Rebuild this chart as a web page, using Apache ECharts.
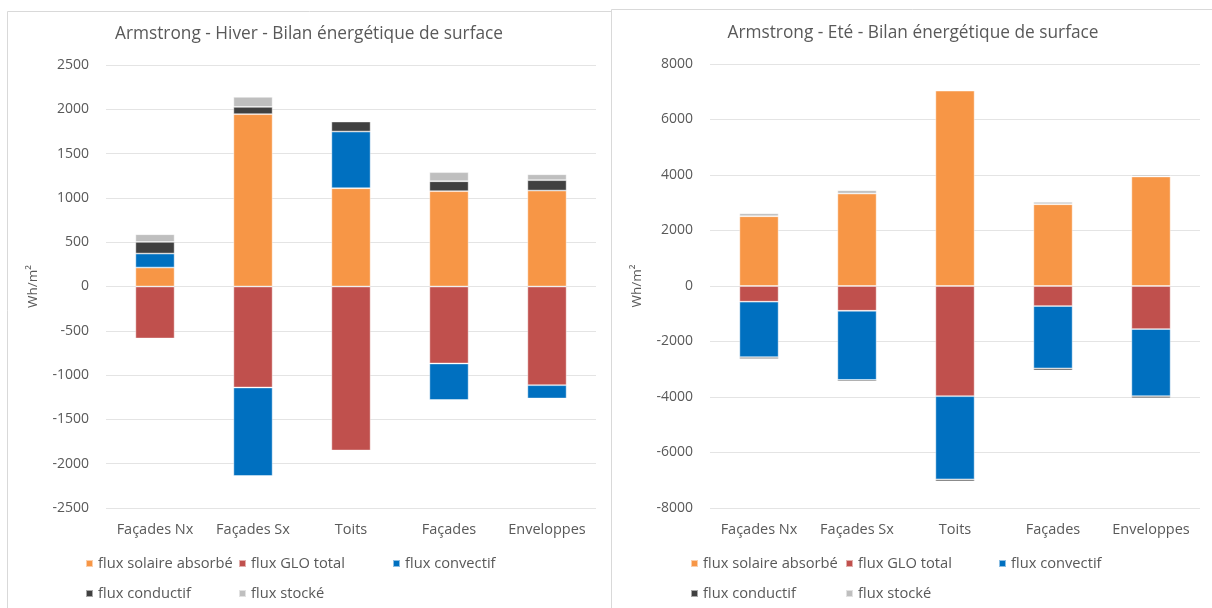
<!DOCTYPE html>
<html>
<head>
<meta charset="utf-8">
<script src="https://cdn.jsdelivr.net/npm/echarts@6/dist/echarts.min.js"></script>
<style>
  html, body { margin: 0; padding: 0; background: #ffffff; }
  #chart { width: 1212px; height: 608px; }
</style>
</head>
<body>
<div id="chart"></div>
<script>
// Categories shared by both panels
const categories = ['Façades Nx', 'Façades Sx', 'Toits', 'Façades', 'Enveloppes'];
const seriesNames = ['flux solaire absorbé', 'flux GLO total', 'flux convectif', 'flux conductif', 'flux stocké'];

// Winter (Hiver) surface energy balance, Wh/m²
const hiverSolaire    = [214, 1945, 1109, 1076, 1083];
const hiverGLO        = [-587, -1140, -1851, -869, -1114];
const hiverConvectif  = [158, -998, 640, -411, -150];
const hiverConductif  = [131, 82, 113, 112, 117];
const hiverStocke     = [87, 113, 0, 102, 67];

// Summer (Eté) surface energy balance, Wh/m²
const eteSolaire      = [2513, 3332, 7040, 2946, 3946];
const eteGLO          = [-566, -892, -3971, -722, -1552];
const eteConvectif    = [-1997, -2491, -2997, -2249, -2419];
const eteConductif    = [-61, -57, -72, -72, -72];
const eteStocke       = [108, 119, 0, 86, 72];

// Y axis ticks
const hiverTicks = { min: -2500, max: 2500, interval: 500 };
const eteTicks   = { min: -8000, max: 8000, interval: 2000 };

const colors = ['#F79646', '#C0504D', '#0070C0', '#404040', '#BFBFBF'];
const textColor = '#595959';
const font = 'Open Sans';

const hiverData = [hiverSolaire, hiverGLO, hiverConvectif, hiverConductif, hiverStocke];
const eteData = [eteSolaire, eteGLO, eteConvectif, eteConductif, eteStocke];

function buildSeries(dataSets, axisIndex, stackId) {
  return dataSets.map((values, i) => ({
    name: seriesNames[i],
    type: 'bar',
    stack: stackId,
    xAxisIndex: axisIndex,
    yAxisIndex: axisIndex,
    barWidth: '40%',
    itemStyle: { color: colors[i], borderColor: 'rgba(255,255,255,0.55)', borderWidth: 0.8 },
    emphasis: { disabled: true },
    data: values
  }));
}

function yAxis(gridIndex, ticks) {
  return {
    type: 'value',
    gridIndex: gridIndex,
    min: ticks.min, max: ticks.max, interval: ticks.interval,
    name: 'Wh/m²',
    nameLocation: 'middle',
    nameRotate: 90,
    nameGap: 66,
    nameTextStyle: { color: textColor, fontSize: 13.5, fontFamily: font },
    axisLine: { show: false },
    axisTick: { show: false },
    axisLabel: { color: textColor, fontSize: 14, fontFamily: font, margin: 17,
                 formatter: v => String(v) },
    splitLine: { lineStyle: { color: '#e4e4e4', width: 1 } }
  };
}

function xAxis(gridIndex) {
  return {
    type: 'category',
    gridIndex: gridIndex,
    data: categories,
    axisLine: { show: false, onZero: false },
    axisTick: { show: false },
    axisLabel: { color: textColor, fontSize: 14.5, fontFamily: font, margin: 14,
                 interval: 0, hideOverlap: false },
    splitLine: { show: false }
  };
}

function legendItem(name, left, top) {
  return {
    data: [name],
    left: left, top: top,
    icon: 'rect',
    itemWidth: 7, itemHeight: 7,
    selectedMode: false,
    padding: 0,
    textStyle: { color: textColor, fontSize: 14.7, fontFamily: font }
  };
}

const legends = [
  legendItem(seriesNames[0], 85, 556),
  legendItem(seriesNames[1], 238, 556),
  legendItem(seriesNames[2], 392, 556),
  legendItem(seriesNames[3], 85, 586),
  legendItem(seriesNames[4], 238, 586),
  legendItem(seriesNames[0], 690, 556),
  legendItem(seriesNames[1], 845, 556),
  legendItem(seriesNames[2], 998, 556),
  legendItem(seriesNames[3], 690, 586),
  legendItem(seriesNames[4], 845, 586)
];

const chart = echarts.init(document.getElementById('chart'), null, { renderer: 'canvas' });
chart.setOption({
  animation: false,
  backgroundColor: '#ffffff',
  graphic: [
    { type: 'rect', silent: true, shape: { x: 7.5, y: 11.5, width: 604, height: 620 },
      style: { fill: 'none', stroke: '#d9d9d9', lineWidth: 1 }, z: -1 },
    { type: 'rect', silent: true, shape: { x: 611.5, y: 9.5, width: 620, height: 620 },
      style: { fill: 'none', stroke: '#d9d9d9', lineWidth: 1 }, z: -1 },
    { type: 'text', silent: true, x: 309, y: 34,
      style: { text: 'Armstrong - Hiver - Bilan énergétique de surface', align: 'center', verticalAlign: 'middle',
               fill: textColor, fontSize: 17.3, fontFamily: font } },
    { type: 'text', silent: true, x: 913, y: 33,
      style: { text: 'Armstrong - Eté - Bilan énergétique de surface', align: 'center', verticalAlign: 'middle',
               fill: textColor, fontSize: 17.3, fontFamily: font } }
  ],
  legend: legends,
  grid: [
    { left: 106, top: 65, width: 490, height: 443 },
    { left: 710, top: 64, width: 490, height: 444 }
  ],
  xAxis: [xAxis(0), xAxis(1)],
  yAxis: [yAxis(0, hiverTicks), yAxis(1, eteTicks)],
  series: [].concat(buildSeries(hiverData, 0, 'hiver'), buildSeries(eteData, 1, 'ete'))
});
</script>
</body>
</html>
